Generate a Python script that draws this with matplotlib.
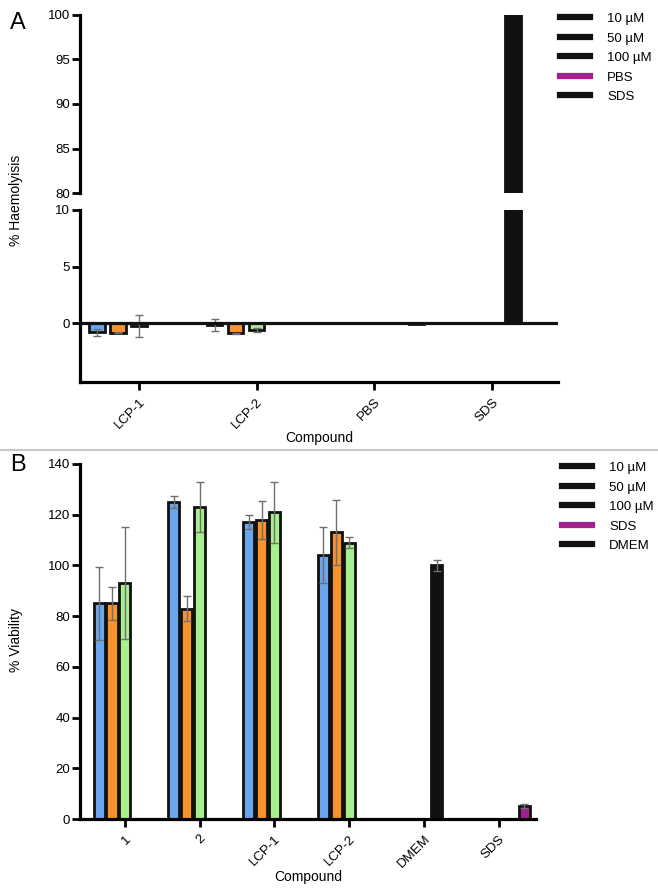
import numpy as np
import matplotlib
matplotlib.use("Agg")
import matplotlib.pyplot as plt
from matplotlib.lines import Line2D

plt.rcParams['font.family'] = ['Liberation Sans', 'DejaVu Sans']

# ---------------- Data ----------------
nan = np.nan
# Panel A: haemolysis
a_groups = ['LCP-1', 'LCP-2', 'PBS', 'SDS']
a_10 = [-0.8, -0.15, nan, nan]
a_10_err = [0.3, 0.55, nan, nan]
a_50 = [-0.85, -0.9, nan, nan]
a_50_err = [0.05, 0.05, nan, nan]
a_100 = [-0.25, -0.6, nan, nan]
a_100_err = [1.0, 0.15, nan, nan]
a_sds = [nan, nan, nan, 100.0]
a_pbs = [nan, nan, -0.1, nan]
a_legend = ['10 µM', '50 µM', '100 µM', 'PBS', 'SDS']

# Panel B: viability
b_groups = ['1', '2', 'LCP-1', 'LCP-2', 'DMEM', 'SDS']
b_10 = [85, 125, 117, 104, nan, nan]
b_10_err = [14.5, 2.3, 2.8, 11, nan, nan]
b_50 = [85, 83, 118, 113, nan, nan]
b_50_err = [6.5, 5, 7.5, 13, nan, nan]
b_100 = [93, 123, 121, 109, nan, nan]
b_100_err = [22, 10, 12, 2.2, nan, nan]
b_dmem = [nan, nan, nan, nan, 100, nan]
b_dmem_err = [nan, nan, nan, nan, 2, nan]
b_sds = [nan, nan, nan, nan, nan, 5]
b_sds_err = [nan, nan, nan, nan, nan, 0.8]
b_legend = ['10 µM', '50 µM', '100 µM', 'SDS', 'DMEM']

# ---------------- Style ----------------
BLUE = '#6aa6ee'
ORANGE = '#f7922c'
GREEN = '#a6f08f'
PURPLE = '#a3218e'
BLACK = '#111111'
ERR = '#6f6f6f'

fig = plt.figure(figsize=(6.58, 8.90), dpi=100)

def style_axis(ax, bottom=True):
    for s in ['top', 'right']:
        ax.spines[s].set_visible(False)
    ax.spines['left'].set_linewidth(2.3)
    ax.spines['bottom'].set_linewidth(2.3)
    if not bottom:
        ax.spines['bottom'].set_visible(False)
        ax.tick_params(axis='x', bottom=False, labelbottom=False)
    ax.tick_params(axis='both', direction='out', length=6, width=2, labelsize=9.5, pad=1)
    ax.tick_params(axis='x', pad=4)

def draw_bars(ax, x, vals, errs, color, width):
    vals = np.array(vals, dtype=float)
    mask = ~np.isnan(vals)
    ax.bar(x[mask], vals[mask], width=width, color=color, edgecolor=BLACK,
           linewidth=2.0, zorder=2)
    if errs is not None:
        e = np.array(errs, dtype=float)
        m2 = mask & ~np.isnan(e)
        ax.errorbar(x[m2], vals[m2], yerr=e[m2], fmt='none', ecolor=ERR,
                    elinewidth=1.0, capsize=3, capthick=1.0, zorder=3)

# ---------------- Panel A ----------------
L = 80 / 658
W_A = 478 / 658
ax_top = fig.add_axes([L, 1 - 193 / 890, W_A, (193 - 15) / 890])
ax_bot = fig.add_axes([L, 1 - 382 / 890, W_A, (382 - 210) / 890])

xa = np.arange(len(a_groups), dtype=float)
slot_a = 0.178
bw_a = 0.13
for ax in (ax_top, ax_bot):
    draw_bars(ax, xa - 2 * slot_a, a_10, a_10_err, BLUE, bw_a)
    draw_bars(ax, xa - 1 * slot_a, a_50, a_50_err, ORANGE, bw_a)
    draw_bars(ax, xa, a_100, a_100_err, GREEN, bw_a)
    draw_bars(ax, xa + 1 * slot_a, a_sds, None, BLACK, bw_a)
    draw_bars(ax, xa + 2 * slot_a, a_pbs, None, PURPLE, bw_a)
    ax.set_xlim(-0.5, 3.56)

ax_top.set_ylim(80, 100)
ax_top.set_yticks([80, 85, 90, 95, 100])
style_axis(ax_top, bottom=False)

ax_bot.set_ylim(-5.2, 10)
ax_bot.set_yticks([0, 5, 10])
ax_bot.axhline(0, color=BLACK, linewidth=2.3, zorder=4)
ax_bot.spines['left'].set_bounds(-5.2, 10)
style_axis(ax_bot, bottom=True)
ax_bot.set_xticks(xa)
ax_bot.set_xticklabels(a_groups, rotation=45, ha='right', rotation_mode='anchor')
ax_bot.set_xlabel('Compound', fontsize=10, labelpad=0)

fig.text(0.024, 0.775, '% Haemolyisis', rotation=90, ha='center', va='center', fontsize=10)
fig.text(0.015, 0.987, 'A', fontsize=17, ha='left', va='top')

a_colors = [BLACK, BLACK, BLACK, PURPLE, BLACK]
handles_a = [Line2D([0], [0], color=c, linewidth=4.5) for c in a_colors]
fig.legend(handles_a, a_legend, loc='upper left', bbox_to_anchor=(548 / 658, 1 - 1 / 890),
           frameon=False, fontsize=9.5, handlelength=2.3, handletextpad=1.3,
           labelspacing=0.55)

# Separator
fig.add_artist(Line2D([0, 1], [1 - 450 / 890, 1 - 450 / 890], color='#c8c8c8',
                      linewidth=1.5, transform=fig.transFigure))

# ---------------- Panel B ----------------
W_B = 456 / 658
ax_b = fig.add_axes([L, 1 - 819 / 890, W_B, (819 - 464) / 890])
xb = np.arange(len(b_groups), dtype=float)
slot_b = 0.172
bw_b = 0.15
draw_bars(ax_b, xb - 2 * slot_b, b_10, b_10_err, BLUE, bw_b)
draw_bars(ax_b, xb - 1 * slot_b, b_50, b_50_err, ORANGE, bw_b)
draw_bars(ax_b, xb, b_100, b_100_err, GREEN, bw_b)
draw_bars(ax_b, xb + 1 * slot_b, b_dmem, b_dmem_err, BLACK, bw_b)
draw_bars(ax_b, xb + 2 * slot_b, b_sds, b_sds_err, PURPLE, bw_b)
ax_b.set_xlim(-0.6, 5.5)
ax_b.set_ylim(0, 140)
ax_b.set_yticks(np.arange(0, 141, 20))
style_axis(ax_b, bottom=True)
ax_b.set_xticks(xb)
ax_b.set_xticklabels(b_groups, rotation=45, ha='right', rotation_mode='anchor')
ax_b.set_xlabel('Compound', fontsize=10, labelpad=0)

fig.text(0.024, 0.281, '% Viability', rotation=90, ha='center', va='center', fontsize=10)
fig.text(0.015, 1 - 454 / 890, 'B', fontsize=17, ha='left', va='top')

b_colors = [BLACK, BLACK, BLACK, PURPLE, BLACK]
handles_b = [Line2D([0], [0], color=c, linewidth=4.5) for c in b_colors]
fig.legend(handles_b, b_legend, loc='upper left', bbox_to_anchor=(550 / 658, 1 - 450 / 890),
           frameon=False, fontsize=9.5, handlelength=2.3, handletextpad=1.3,
           labelspacing=0.55)

fig.savefig('out.png', dpi=100)
